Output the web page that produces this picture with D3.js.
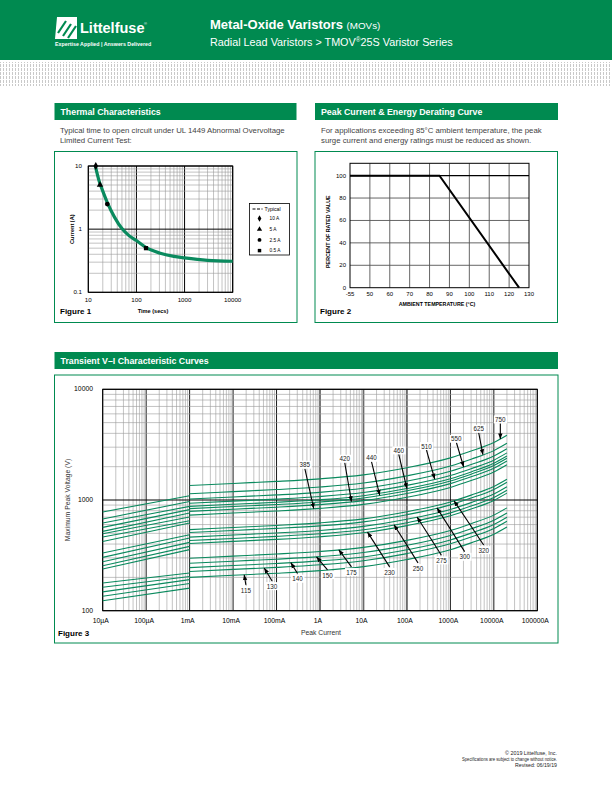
<!DOCTYPE html>
<html>
<head>
<meta charset="utf-8">
<script src="https://cdn.jsdelivr.net/npm/d3@7.9.0/dist/d3.min.js"></script>
<style>
  body { margin: 0; background: #fff; }
  svg { display: block; }
  text { font-family: "Liberation Sans", Arial, sans-serif; }
</style>
</head>
<body>
<svg id="page" width="612" height="792"></svg>
<script>
// ---------- data ----------
// Figure 1: typical time to open circuit
let thermalTime = [14, 17, 20, 25, 35, 50, 70, 100, 160, 300, 600, 1000, 3000, 10000];
let thermalCurrent = [10, 5.6, 4.0, 2.6, 1.55, 1.02, 0.79, 0.66, 0.51, 0.42, 0.37, 0.35, 0.32, 0.31];
let markerLabels = ['10 A', '5 A', '2.5 A', '0.5 A'];
let markerTime = [14.3, 17.5, 24.8, 158];
let markerCurrent = [10, 5, 2.5, 0.5];
let thermalXTicks = [10, 100, 1000, 10000];
let thermalYTicks = [0.1, 1, 10];

// Figure 2: derating
let deratingTemp = [40, 85, 125];
let deratingPct = [100, 100, 0];
let deratingXTicks = [40, 50, 60, 70, 80, 90, 100, 110, 120, 130];
let deratingXLabels = ['-55', '50', '60', '70', '80', '90', '100', '110', '120', '130'];
let deratingYTicks = [0, 20, 40, 60, 80, 100];

// Figure 3: transient V-I curves
let viRatings = [115, 130, 140, 150, 175, 230, 250, 275, 300, 320, 385, 420, 440, 460, 510, 550, 625, 750];
let viCurrents = [0.001, 0.01, 0.1, 1, 10, 100, 1000, 3000, 10000, 20000];
let viMaxVoltage = [
  [200, 209, 218, 230, 250, 290, 356, 410, 490, 570],
  [226, 236, 246, 260, 283, 328, 402, 463, 554, 644],
  [245, 256, 267, 282, 306, 355, 436, 502, 600, 698],
  [268, 280, 292, 308, 335, 389, 477, 549, 657, 764],
  [298, 311, 325, 343, 373, 432, 530, 611, 730, 849],
  [405, 423, 441, 466, 506, 587, 721, 830, 992, 1154],
  [430, 449, 469, 495, 538, 624, 765, 882, 1054, 1226],
  [462, 483, 504, 531, 578, 670, 822, 947, 1132, 1317],
  [508, 531, 554, 584, 635, 737, 904, 1041, 1245, 1448],
  [540, 564, 589, 621, 675, 783, 961, 1107, 1323, 1539],
  [730, 763, 796, 840, 913, 1059, 1299, 1497, 1789, 2081],
  [790, 826, 861, 909, 988, 1146, 1406, 1620, 1936, 2252],
  [835, 873, 910, 960, 1044, 1211, 1486, 1712, 2046, 2380],
  [875, 914, 954, 1006, 1094, 1269, 1558, 1794, 2144, 2494],
  [935, 977, 1019, 1075, 1169, 1356, 1664, 1917, 2291, 2665],
  [1020, 1066, 1112, 1173, 1275, 1479, 1816, 2091, 2499, 2907],
  [1140, 1191, 1243, 1311, 1425, 1653, 2029, 2337, 2793, 3249],
  [1350, 1411, 1472, 1553, 1688, 1958, 2403, 2768, 3308, 3848]
];
// standby (leakage) region, 10uA -> 1mA
let leakCurrents = [0.00001, 0.001];
let leakStart = [123, 135, 148, 163, 178, 238, 255, 277, 303, 332, 422, 463, 496, 521, 566, 620, 673, 780];
let leakEnd = [160, 176, 191, 204, 219, 356, 381, 414, 454, 486, 620, 650, 702, 763, 818, 876, 971, 1094];
// callouts: where the label sits and which current the arrow points at
let labelCurrent = [0.0197, 0.079, 0.304, 1.49, 5.3, 40, 180, 621, 2130, 5830, 0.448, 3.7, 15.3, 64.7, 281, 1374, 4477, 14100];
let labelVoltage = [152.6, 165.7, 193.3, 208.4, 222, 222, 241, 283, 305, 350, 2070, 2345, 2395, 2790, 3050, 3556, 4377, 5311];
let tipCurrent = [0.018, 0.052, 0.213, 0.83, 2.7, 12.4, 50.5, 171, 492, 1210, 0.72, 5.3, 23.7, 100, 436, 2023, 5610, 14100];
let viXTicks = [1e-5, 1e-4, 1e-3, 1e-2, 1e-1, 1, 10, 100, 1000, 10000, 100000];
let viXLabels = ['10µA', '100µA', '1mA', '10mA', '100mA', '1A', '10A', '100A', '1000A', '10000A', '100000A'];
let viYTicks = [100, 1000, 10000];

const GREEN = '#008a50';
const CURVE = '#0a8a5e';

let svg = d3.select('#page');

// ---------- header ----------
let defs = svg.append('defs');
let pat = defs.append('pattern')
  .attr('id', 'dots').attr('width', 3).attr('height', 4)
  .attr('patternUnits', 'userSpaceOnUse');
pat.append('rect').attr('width', 3).attr('height', 4).attr('fill', '#fff');
pat.append('rect').attr('width', 1).attr('height', 3).attr('fill', '#c9c9c9');

defs.append('marker')
  .attr('id', 'ah').attr('viewBox', '0 0 10 10')
  .attr('refX', 10).attr('refY', 5)
  .attr('markerWidth', 5).attr('markerHeight', 5)
  .attr('orient', 'auto')
  .append('path').attr('d', 'M0,1L10,5L0,9z').attr('fill', '#000');

svg.append('rect').attr('x', 0).attr('y', 0).attr('width', 612).attr('height', 60).attr('fill', GREEN);
svg.append('rect').attr('x', 0).attr('y', 62).attr('width', 612).attr('height', 24).attr('fill', 'url(#dots)');

// logo mark
let logo = svg.append('g').attr('transform', 'translate(55,17)');
logo.append('path').attr('d', 'M2,0H22V22H0Z').attr('fill', '#fff');
logo.append('path').attr('d', 'M3,16L11,4M8,19L16,7M13,21L21,9')
  .attr('stroke', GREEN).attr('stroke-width', 2.2).attr('fill', 'none');
svg.append('text').attr('x', 80).attr('y', 33).attr('fill', '#fff')
  .attr('font-size', 14.5).attr('font-weight', 'bold').text('Littelfuse');
svg.append('text').attr('x', 144).attr('y', 25).attr('fill', '#fff')
  .attr('font-size', 4).text('®');
svg.append('text').attr('x', 55).attr('y', 46).attr('fill', '#fff')
  .attr('font-size', 5.3).attr('font-weight', 'bold').text('Expertise Applied  |  Answers Delivered');

let title = svg.append('text').attr('x', 210).attr('y', 29).attr('fill', '#fff');
title.append('tspan').attr('font-size', 13).attr('font-weight', 'bold').text('Metal-Oxide Varistors ');
title.append('tspan').attr('font-size', 9.8).text('(MOVs)');
let sub = svg.append('text').attr('x', 210).attr('y', 46).attr('fill', '#fff').attr('font-size', 10.8);
sub.append('tspan').text('Radial Lead Varistors  >  TMOV');
sub.append('tspan').attr('font-size', 6.5).attr('dy', -4).text('®');
sub.append('tspan').attr('dy', 4).text('25S Varistor Series');

// ---------- section helpers ----------
function sectionBar(x, y, w, label) {
  svg.append('rect').attr('x', x).attr('y', y).attr('width', w).attr('height', 17).attr('fill', GREEN);
  svg.append('text').attr('x', x + 6).attr('y', y + 12).attr('fill', '#fff')
    .attr('font-size', 8.8).attr('font-weight', 'bold').text(label);
}
function frame(x, y, w, h) {
  svg.append('rect').attr('x', x).attr('y', y).attr('width', w).attr('height', h)
    .attr('fill', 'none').attr('stroke', GREEN).attr('stroke-width', 1);
}
function note(x, y, lines) {
  lines.forEach((t, i) => {
    svg.append('text').attr('x', x).attr('y', y + i * 9.5).attr('fill', '#444')
      .attr('font-size', 7.8).text(t);
  });
}
function logValues(lo, hi) {
  let out = [];
  for (let e = Math.round(Math.log10(lo)); e < Math.round(Math.log10(hi)); e++) {
    for (let m = 1; m <= 9; m++) out.push({ v: m * Math.pow(10, e), major: m === 1 });
  }
  out.push({ v: hi, major: true });
  return out;
}

// ---------- Figure 1 ----------
sectionBar(54.5, 103, 242, 'Thermal Characteristics');
note(60, 133, ['Typical time to open circuit under UL 1449 Abnormal Overvoltage', 'Limited Current Test:']);
frame(54.5, 151.5, 242.5, 171);

let tx = d3.scaleLog().domain([10, 10000]).range([88.3, 232.7]);
let ty = d3.scaleLog().domain([0.1, 10]).range([292.3, 166]);
let g1 = svg.append('g');
logValues(10, 10000).forEach(d => {
  g1.append('line').attr('x1', tx(d.v)).attr('x2', tx(d.v)).attr('y1', ty(0.1)).attr('y2', ty(10))
    .attr('stroke', d.major ? '#000' : '#9a9a9a').attr('stroke-width', d.major ? 1 : 0.6);
});
logValues(0.1, 10).forEach(d => {
  g1.append('line').attr('y1', ty(d.v)).attr('y2', ty(d.v)).attr('x1', tx(10)).attr('x2', tx(10000))
    .attr('stroke', d.major ? '#000' : '#9a9a9a').attr('stroke-width', d.major ? 1 : 0.6);
});
g1.append('rect').attr('x', tx(10)).attr('y', ty(10)).attr('width', tx(10000) - tx(10)).attr('height', ty(0.1) - ty(10))
  .attr('fill', 'none').attr('stroke', '#000').attr('stroke-width', 1);

let thermalLine = d3.line().x(d => tx(d[0])).y(d => ty(d[1])).curve(d3.curveMonotoneX);
g1.append('path').attr('d', thermalLine(thermalTime.map((t, i) => [t, thermalCurrent[i]])))
  .attr('fill', 'none').attr('stroke', CURVE).attr('stroke-width', 3.2);

let symbols = [d3.symbolDiamond, d3.symbolTriangle, d3.symbolCircle, d3.symbolSquare];
markerTime.forEach((t, i) => {
  g1.append('path').attr('d', d3.symbol(symbols[i], 18)())
    .attr('transform', `translate(${tx(t)},${ty(markerCurrent[i])})`).attr('fill', '#000');
});

thermalXTicks.forEach(v => {
  g1.append('text').attr('x', tx(v)).attr('y', 302).attr('text-anchor', 'middle')
    .attr('font-size', 6.2).text(v);
});
thermalYTicks.forEach(v => {
  g1.append('text').attr('x', 82).attr('y', ty(v) + 2).attr('text-anchor', 'end')
    .attr('font-size', 6.2).text(v);
});
g1.append('text').attr('transform', `translate(74,${ty(1)}) rotate(-90)`).attr('text-anchor', 'middle')
  .attr('font-size', 5.6).attr('font-weight', 'bold').text('Current (A)');
g1.append('text').attr('x', 153).attr('y', 313).attr('text-anchor', 'middle')
  .attr('font-size', 5.6).attr('font-weight', 'bold').text('Time (secs)');
g1.append('text').attr('x', 60).attr('y', 314).attr('font-size', 8).attr('font-weight', 'bold').text('Figure 1');

// legend
let lg = g1.append('g').attr('transform', 'translate(249.5,203.5)');
lg.append('rect').attr('width', 40).attr('height', 51.5).attr('fill', '#fff').attr('stroke', '#000').attr('stroke-width', 0.8);
lg.append('line').attr('x1', 3).attr('x2', 13).attr('y1', 5.5).attr('y2', 5.5)
  .attr('stroke', '#000').attr('stroke-width', 1).attr('stroke-dasharray', '3,1.5');
lg.append('text').attr('x', 15).attr('y', 7.5).attr('font-size', 5.2).text('Typical');
markerLabels.forEach((lab, i) => {
  let yy = 15 + i * 10.7;
  lg.append('path').attr('d', d3.symbol(symbols[i], 12)()).attr('transform', `translate(10,${yy})`).attr('fill', '#000');
  lg.append('text').attr('x', 20).attr('y', yy + 1.8).attr('font-size', 4.8).text(lab);
});

// ---------- Figure 2 ----------
sectionBar(315, 103, 243, 'Peak Current & Energy Derating Curve');
note(321, 133, ['For applications exceeding 85°C ambient temperature, the peak', 'surge current and energy ratings must be reduced as shown.']);
frame(315, 151.5, 242.5, 171);

let dx = d3.scaleLinear().domain([40, 130]).range([350, 529]);
let dy = d3.scaleLinear().domain([0, 111]).range([287.7, 163.3]);
let g2 = svg.append('g');
deratingXTicks.slice(1, -1).forEach(v => {
  g2.append('line').attr('x1', dx(v)).attr('x2', dx(v)).attr('y1', dy(0)).attr('y2', dy(111))
    .attr('stroke', '#555').attr('stroke-width', 0.9);
});
deratingYTicks.slice(1).forEach(v => {
  g2.append('line').attr('y1', dy(v)).attr('y2', dy(v)).attr('x1', dx(40)).attr('x2', dx(130))
    .attr('stroke', v === 100 ? '#000' : '#555').attr('stroke-width', v === 100 ? 1.1 : 0.9);
});
g2.append('rect').attr('x', dx(40)).attr('y', dy(111)).attr('width', dx(130) - dx(40)).attr('height', dy(0) - dy(111))
  .attr('fill', 'none').attr('stroke', '#000').attr('stroke-width', 1);
g2.append('path').attr('d', d3.line().x(d => dx(d[0])).y(d => dy(d[1]))(deratingTemp.map((t, i) => [t, deratingPct[i]])))
  .attr('fill', 'none').attr('stroke', '#000').attr('stroke-width', 2);
deratingXTicks.forEach((v, i) => {
  g2.append('text').attr('x', dx(v)).attr('y', 296).attr('text-anchor', 'middle')
    .attr('font-size', 6).text(deratingXLabels[i]);
});
deratingYTicks.forEach(v => {
  g2.append('text').attr('x', 346).attr('y', dy(v) + 2).attr('text-anchor', 'end')
    .attr('font-size', 6).text(v);
});
g2.append('text').attr('transform', `translate(330,${dy(50)}) rotate(-90)`).attr('text-anchor', 'middle')
  .attr('font-size', 5.3).attr('font-weight', 'bold').text('PERCENT OF RATED VALUE');
g2.append('text').attr('x', 437).attr('y', 306).attr('text-anchor', 'middle')
  .attr('font-size', 5.3).attr('font-weight', 'bold').text('AMBIENT TEMPERATURE (°C)');
g2.append('text').attr('x', 320).attr('y', 314).attr('font-size', 8).attr('font-weight', 'bold').text('Figure 2');

// ---------- Figure 3 ----------
sectionBar(54.5, 352, 503.5, 'Transient V–I Characteristic Curves');
frame(54.5, 375, 503.5, 268);

let vx = d3.scaleLog().domain([1e-5, 1e5]).range([102.7, 537.3]);
let vy = d3.scaleLog().domain([100, 10000]).range([610.7, 389.3]);
let g3 = svg.append('g');
logValues(1e-5, 1e5).forEach(d => {
  let heavy = d.major && [1, 10, 100].some(v => Math.abs(v - d.v) < 1e-9);
  g3.append('line').attr('x1', vx(d.v)).attr('x2', vx(d.v)).attr('y1', vy(100)).attr('y2', vy(10000))
    .attr('stroke', heavy ? '#6a6a6a' : (d.major ? '#000' : '#9a9a9a'))
    .attr('stroke-width', heavy ? 1.8 : (d.major ? 0.9 : 0.6));
});
logValues(100, 10000).forEach(d => {
  g3.append('line').attr('y1', vy(d.v)).attr('y2', vy(d.v)).attr('x1', vx(1e-5)).attr('x2', vx(1e5))
    .attr('stroke', d.major ? '#000' : '#9a9a9a').attr('stroke-width', d.major ? 1 : 0.6);
});
g3.append('rect').attr('x', vx(1e-5)).attr('y', vy(10000)).attr('width', vx(1e5) - vx(1e-5)).attr('height', vy(100) - vy(10000))
  .attr('fill', 'none').attr('stroke', '#000').attr('stroke-width', 1);

let viLine = d3.line().x(d => vx(d[0])).y(d => vy(d[1])).curve(d3.curveMonotoneX);
viRatings.forEach((r, i) => {
  g3.append('path').attr('d', viLine(viCurrents.map((c, j) => [c, viMaxVoltage[i][j]])))
    .attr('fill', 'none').attr('stroke', CURVE).attr('stroke-width', 1.1);
  g3.append('path').attr('d', viLine([[leakCurrents[0], leakStart[i]], [leakCurrents[1], leakEnd[i]]]))
    .attr('fill', 'none').attr('stroke', CURVE).attr('stroke-width', 1.1);
});

// voltage on a curve at a given current (log-log between the read points)
function voltageAt(i, c) {
  let cs = viCurrents, vs = viMaxVoltage[i];
  for (let j = 0; j < cs.length - 1; j++) {
    if (c <= cs[j + 1]) {
      let t = (Math.log(c) - Math.log(cs[j])) / (Math.log(cs[j + 1]) - Math.log(cs[j]));
      return Math.exp(Math.log(vs[j]) + t * (Math.log(vs[j + 1]) - Math.log(vs[j])));
    }
  }
  return vs[vs.length - 1];
}

viRatings.forEach((r, i) => {
  let lx = vx(labelCurrent[i]), ly = vy(labelVoltage[i]);
  let px = vx(tipCurrent[i]), py = vy(voltageAt(i, tipCurrent[i]));
  let above = ly < py;
  let sx = lx, sy = above ? ly + 3.5 : ly - 5.5;
  g3.append('line').attr('x1', sx).attr('y1', sy).attr('x2', px).attr('y2', py)
    .attr('stroke', '#000').attr('stroke-width', 1.1).attr('marker-end', 'url(#ah)');
  let t = g3.append('text').attr('x', lx).attr('y', ly + 2.2).attr('text-anchor', 'middle')
    .attr('font-size', 6.3).attr('fill', '#222').text(r);
  let bb = t.node().getBBox();
  g3.insert('rect', () => t.node()).attr('x', bb.x - 1.2).attr('y', bb.y - 0.5)
    .attr('width', bb.width + 2.4).attr('height', bb.height + 1).attr('fill', '#fff');
});

viXTicks.forEach((v, i) => {
  g3.append('text').attr('x', vx(v) - 2).attr('y', 623).attr('text-anchor', 'middle')
    .attr('font-size', 6.8).text(viXLabels[i]);
});
viYTicks.forEach(v => {
  g3.append('text').attr('x', 93).attr('y', vy(v) + 2).attr('text-anchor', 'end')
    .attr('font-size', 6.8).text(v);
});
g3.append('text').attr('transform', `translate(70,${vy(1000)}) rotate(-90)`).attr('text-anchor', 'middle')
  .attr('font-size', 6.8).attr('fill', '#333').text('Maximum Peak Voltage (V)');
g3.append('text').attr('x', 321).attr('y', 635).attr('text-anchor', 'middle')
  .attr('font-size', 6.8).attr('fill', '#333').text('Peak Current');
g3.append('text').attr('x', 58).attr('y', 636).attr('font-size', 8).attr('font-weight', 'bold').text('Figure 3');

// ---------- footer ----------
let footLines = ['© 2019 Littelfuse, Inc.', 'Specifications are subject to change without notice.', 'Revised: 06/19/19'];
let footWidths = [52, 95, 42];
footLines.forEach((t, i) => {
  svg.append('text').attr('x', 557 - footWidths[i]).attr('y', 755 + i * 6)
    .attr('textLength', footWidths[i]).attr('lengthAdjust', 'spacingAndGlyphs')
    .attr('font-size', 5.4).attr('fill', '#222').text(t);
});
</script>
</body>
</html>
